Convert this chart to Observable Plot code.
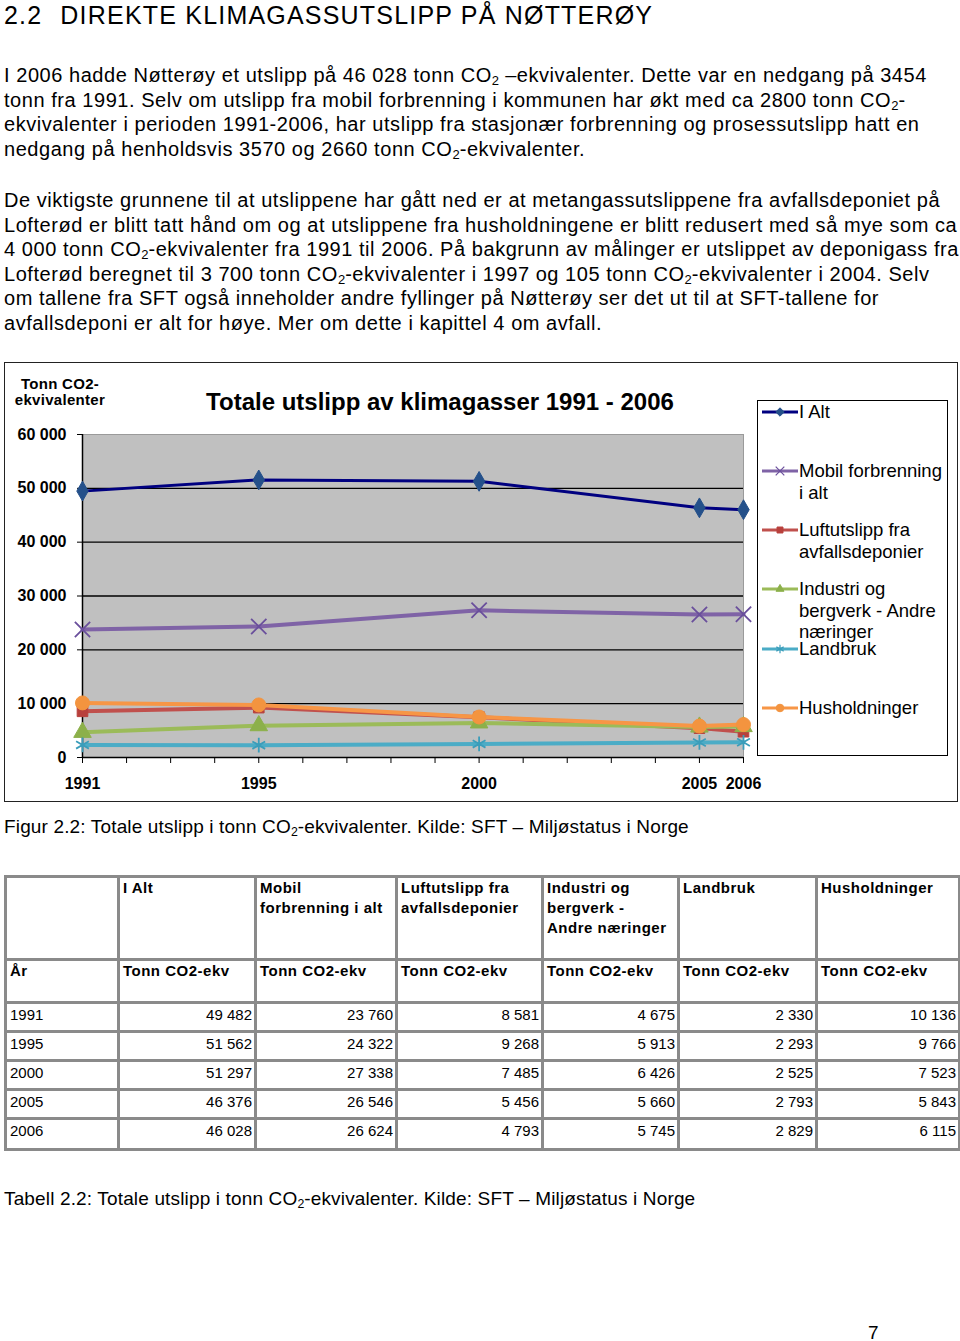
<!DOCTYPE html>
<html>
<head>
<meta charset="utf-8">
<script src="https://cdn.jsdelivr.net/npm/d3@7"></script>
<script src="https://cdn.jsdelivr.net/npm/@observablehq/plot@0.6"></script>
<style>
  html, body { margin:0; padding:0; background:#fff; }
  body { width:960px; height:1341px; position:relative; font-family:"Liberation Sans", Arial, sans-serif; color:#000; overflow:hidden; }
  .abs { position:absolute; white-space:nowrap; }
  .h1 { left:4px; top:0px; font-size:25px; line-height:30px; letter-spacing:1.2px; }
  .p { left:4px; font-size:20px; line-height:24.5px; letter-spacing:0.55px; }
  sub { font-size:0.65em; vertical-align:-0.25em; line-height:0; letter-spacing:0; }
  #chartbox { position:absolute; left:4px; top:362px; width:952px; height:438px; border:1.5px solid #222; }
  #plot { position:absolute; left:4px; top:362px; }
  .ctitle { left:160px; width:560px; text-align:center; top:388px; font-size:24px; font-weight:bold; line-height:28px; letter-spacing:0; }
  .ylab { left:10px; width:100px; text-align:center; top:376px; font-size:15px; font-weight:bold; line-height:16px; letter-spacing:0.3px; }
  #legend { position:absolute; left:757px; top:400px; width:189px; height:354px; border:1px solid #000; }
  .lg { position:absolute; left:41px; font-size:18.5px; line-height:21.5px; white-space:nowrap; }
  .lgsw { position:absolute; left:4px; }
  table { position:absolute; left:4px; top:875px; width:954px; border-collapse:collapse; table-layout:fixed; border:3px solid #000; font-size:15px; }
  td { border:3px solid #8a8a8a; padding:0 2px 0 3px; vertical-align:top; line-height:20px; }
  tr.h1r td { height:80px; font-weight:bold; padding-top:0px; letter-spacing:0.5px; }
  tr.h2r td { height:40px; font-weight:bold; padding-top:0px; letter-spacing:0.5px; }
  tr.dr td { height:25px; text-align:right; padding-top:1px; }
  tr.dr:last-child td { height:27px; }
  tr.dr td:first-child { text-align:left; }
  .cap { left:4px; font-size:19px; line-height:24px; letter-spacing:0.15px; }
</style>
</head>
<body>
<div class="abs h1">2.2<span style="display:inline-block;width:18px"></span>DIREKTE KLIMAGASSUTSLIPP PÅ NØTTERØY</div>

<div class="abs p" style="top:63px">I 2006 hadde Nøtterøy et utslipp på 46 028 tonn CO<sub>2</sub> –ekvivalenter. Dette var en nedgang på 3454<br>tonn fra 1991. Selv om utslipp fra mobil forbrenning i kommunen har økt med ca 2800 tonn CO<sub>2</sub>-<br>ekvivalenter i perioden 1991-2006, har utslipp fra stasjonær forbrenning og prosessutslipp hatt en<br>nedgang på henholdsvis 3570 og 2660 tonn CO<sub>2</sub>-ekvivalenter.</div>

<div class="abs p" style="top:188px">De viktigste grunnene til at utslippene har gått ned er at metangassutslippene fra avfallsdeponiet på<br>Lofterød er blitt tatt hånd om og at utslippene fra husholdningene er blitt redusert med så mye som ca<br>4 000 tonn CO<sub>2</sub>-ekvivalenter fra 1991 til 2006. På bakgrunn av målinger er utslippet av deponigass fra<br>Lofterød beregnet til 3 700 tonn CO<sub>2</sub>-ekvivalenter i 1997 og 105 tonn CO<sub>2</sub>-ekvivalenter i 2004. Selv<br>om tallene fra SFT også inneholder andre fyllinger på Nøtterøy ser det ut til at SFT-tallene for<br>avfallsdeponi er alt for høye. Mer om dette i kapittel 4 om avfall.</div>

<div id="chartbox"></div>
<div id="plot"></div>
<div class="abs ctitle">Totale utslipp av klimagasser 1991 - 2006</div>
<div class="abs ylab">Tonn CO2-<br>ekvivalenter</div>
<div id="legend"></div>

<div class="abs cap" style="top:815px">Figur 2.2: Totale utslipp i tonn CO<sub>2</sub>-ekvivalenter. Kilde: SFT – Miljøstatus i Norge</div>

<div id="tablewrap"></div>

<div class="abs cap" style="top:1187px">Tabell 2.2: Totale utslipp i tonn CO<sub>2</sub>-ekvivalenter. Kilde: SFT – Miljøstatus i Norge</div>
<div class="abs" style="left:868px; top:1321px; font-size:19px; line-height:24px;">7</div>

<script>
// ---- data ----
const years = [1991, 1995, 2000, 2005, 2006];
const seriesNames = ["I Alt", "Mobil forbrenning i alt", "Luftutslipp fra avfallsdeponier", "Industri og bergverk - Andre næringer", "Landbruk", "Husholdninger"];
const iAlt = [49482, 51562, 51297, 46376, 46028];
const mobil = [23760, 24322, 27338, 26546, 26624];
const luft = [8581, 9268, 7485, 5456, 4793];
const industri = [4675, 5913, 6426, 5660, 5745];
const landbruk = [2330, 2293, 2525, 2793, 2829];
const husholdninger = [10136, 9766, 7523, 5843, 6115];
const yTicks = [0, 10000, 20000, 30000, 40000, 50000, 60000];
const xTickYears = d3.range(1991, 2007);
const xLabelYears = [1991, 1995, 2000, 2005, 2006];
const legendLines = [["I Alt"], ["Mobil forbrenning", "i alt"], ["Luftutslipp fra", "avfallsdeponier"], ["Industri og", "bergverk - Andre", "næringer"], ["Landbruk"], ["Husholdninger"]];
const tableHead1 = ["", "I Alt", "Mobil<br>forbrenning i alt", "Luftutslipp fra<br>avfallsdeponier", "Industri og<br>bergverk -<br>Andre næringer", "Landbruk", "Husholdninger"];
const tableHead2 = ["År", "Tonn CO2-ekv", "Tonn CO2-ekv", "Tonn CO2-ekv", "Tonn CO2-ekv", "Tonn CO2-ekv", "Tonn CO2-ekv"];

const values = [iAlt, mobil, luft, industri, landbruk, husholdninger];
const styles = [
  {line: "#000080", mark: "#24508a", symbol: "diamond", r: 6, sw: 3, hollow: false},
  {line: "#7f63a6", mark: "#6a4f9c", symbol: "times", r: 7, sw: 4, hollow: true},
  {line: "#c0504d", mark: "#b8403c", symbol: "square", r: 6, sw: 4, hollow: false},
  {line: "#9bbb59", mark: "#8cb04a", symbol: "triangle", r: 6.5, sw: 4, hollow: false},
  {line: "#4bacc6", mark: "#3a9dba", symbol: "asterisk", r: 7, sw: 4, hollow: true},
  {line: "#f79646", mark: "#f3943f", symbol: "circle", r: 7, sw: 4, hollow: false}
];

const rows = [];
values.forEach((vals, si) => years.forEach((y, i) => rows.push({series: seriesNames[si], si, year: y, value: vals[i]})));

const fmt = d => d3.format(",")(d).replace(/,/g, " ");

const marks = [
  Plot.frame({fill: "#c0c0c0", stroke: "#9a9a9a"}),
  Plot.ruleY(yTicks.filter(d => d > 0 && d < 60000), {stroke: "#000", strokeWidth: 1.4}),
  Plot.axisY({ticks: yTicks, tickSize: 5, tickPadding: 11, tickFormat: fmt, label: null, fontWeight: "bold", fontSize: 16}),
  Plot.axisX({ticks: xTickYears, tickSize: 6, tickPadding: 14, tickFormat: d => xLabelYears.includes(d) ? String(d) : "", label: null, fontWeight: "bold", fontSize: 16}),
  Plot.ruleX([years[0]], {stroke: "#000", strokeWidth: 1.5}),
  Plot.ruleY([yTicks[0]], {stroke: "#000", strokeWidth: 1.5})
];
styles.forEach((s, si) => {
  const data = rows.filter(d => d.si === si);
  marks.push(Plot.line(data, {x: "year", y: "value", stroke: s.line, strokeWidth: s.sw}));
  marks.push(Plot.dot(data, {x: "year", y: "value", symbol: () => s.symbol, r: s.r,
    fill: s.hollow ? "none" : s.mark, stroke: s.mark, strokeWidth: s.hollow ? 1.8 : 1}));
});

const chart = Plot.plot({
  width: 954, height: 440,
  marginLeft: 78, marginRight: 215, marginTop: 72, marginBottom: 45,
  x: {domain: [1991, 2006]},
  y: {domain: [0, 60000]},
  style: {fontFamily: "'Liberation Sans', Arial, sans-serif", fontSize: "16px", color: "#000", background: "transparent", overflow: "visible"},
  marks
});
document.getElementById("plot").appendChild(chart);

// ---- legend ----
const legend = document.getElementById("legend");
const entryTops = [0, 59, 118, 177, 237, 296];
const symMap = {diamond: d3.symbolDiamond2, times: d3.symbolTimes, square: d3.symbolSquare2, triangle: d3.symbolTriangle2, asterisk: d3.symbolAsterisk, circle: d3.symbolCircle};
legendLines.forEach((lines, i) => {
  const s = styles[i];
  const div = document.createElement("div");
  div.className = "lg";
  div.style.top = entryTops[i] + "px";
  div.innerHTML = lines.join("<br>");
  legend.appendChild(div);
  const svg = d3.create("svg").attr("class", "lgsw").attr("width", 36).attr("height", 20)
    .style("top", (entryTops[i] + 1) + "px");
  svg.append("line").attr("x1", 0).attr("x2", 36).attr("y1", 10).attr("y2", 10).attr("stroke", s.line).attr("stroke-width", 3);
  svg.append("path").attr("transform", "translate(18,10)")
    .attr("d", d3.symbol(symMap[s.symbol], s.hollow ? 50 : 45)())
    .attr("fill", s.hollow ? "none" : s.mark).attr("stroke", s.mark).attr("stroke-width", s.hollow ? 1.2 : 1);
  legend.appendChild(svg.node());
});

// ---- table ----
const colW = [113, 137, 141, 146, 136, 138, 143];
let html = "<table><colgroup>" + colW.map(w => `<col style="width:${w}px">`).join("") + "</colgroup>";
html += "<tr class='h1r'>" + tableHead1.map(t => `<td>${t}</td>`).join("") + "</tr>";
html += "<tr class='h2r'>" + tableHead2.map(t => `<td>${t}</td>`).join("") + "</tr>";
years.forEach((y, i) => {
  html += "<tr class='dr'><td>" + y + "</td>" + values.map(v => `<td>${fmt(v[i])}</td>`).join("") + "</tr>";
});
html += "</table>";
document.getElementById("tablewrap").innerHTML = html;
</script>
</body>
</html>
